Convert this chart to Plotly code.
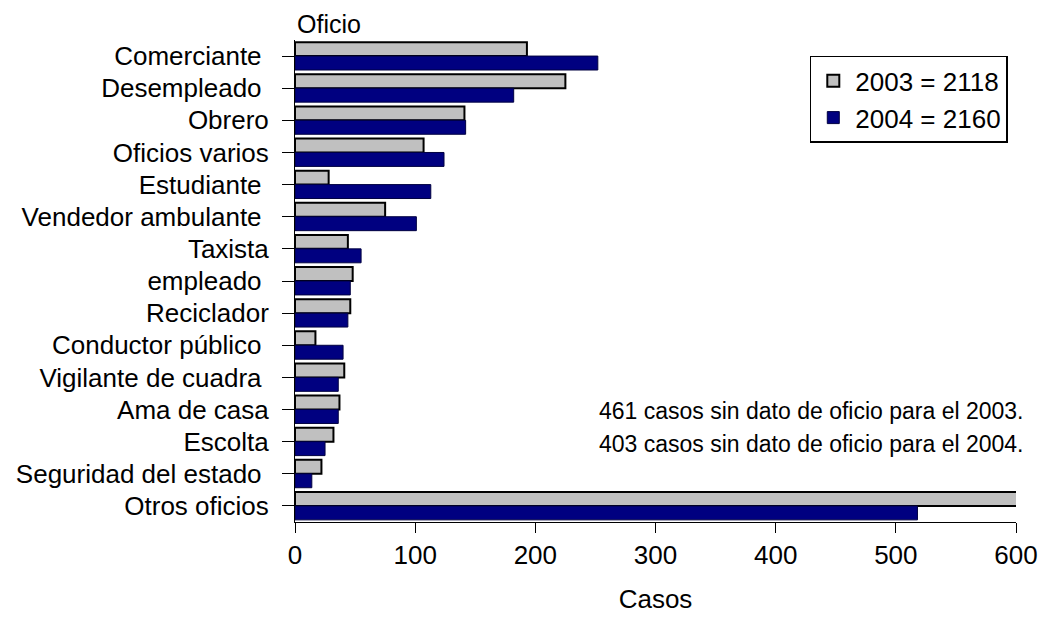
import plotly.graph_objects as go

categories = ["Comerciante ", "Desempleado ", "Obrero", "Oficios varios", "Estudiante ",
              "Vendedor ambulante ", "Taxista", "empleado ", "Reciclador",
              "Conductor público ", "Vigilante de cuadra ", "Ama de casa", "Escolta",
              "Seguridad del estado ", "Otros oficios"]
values_2003 = [193, 225, 141, 107, 28, 75, 44, 48, 46, 17, 41, 37, 32, 22, 601]
values_2004 = [252, 182, 142, 124, 113, 101, 55, 46, 44, 40, 36, 36, 25, 14, 518]
series_names = ["2003 = 2118", "2004 = 2160"]
x_ticks = [0, 100, 200, 300, 400, 500, 600]
notes = ["461 casos sin dato de oficio para el 2003.",
         "403 casos sin dato de oficio para el 2004."]

FONT = "Liberation Sans, Arial, sans-serif"

# page body has an 8px margin; the figure is sized to fill the rest of the window
W, H, OFF = 1050, 620, 8

fig = go.Figure()
fig.add_trace(go.Bar(y=categories, x=values_2003, orientation="h", name=series_names[0],
                     marker=dict(color="#c0c0c0", line=dict(color="black", width=2))))
fig.add_trace(go.Bar(y=categories, x=values_2004, orientation="h", name=series_names[1],
                     marker=dict(color="#000080", line=dict(color="#000040", width=1))))

fig.update_layout(
    width=W - OFF, height=H - OFF,
    margin=dict(l=295 - OFF, r=25, t=40 - OFF, b=95),
    paper_bgcolor="white", plot_bgcolor="white",
    barmode="group", bargap=0.133, bargroupgap=0,
    font=dict(family=FONT, size=26, color="black"),
    showlegend=True,
    legend=dict(x=0.714, y=0.967, xanchor="left", yanchor="top",
                bordercolor="black", borderwidth=1.5, bgcolor="white",
                font=dict(size=26), itemwidth=34),
    xaxis=dict(range=[0, 600], tickvals=x_ticks, showgrid=False, zeroline=False,
               showline=True, linecolor="black", linewidth=1,
               ticks="outside", ticklen=10, tickcolor="black",
               tickfont=dict(size=26),
               title=dict(text="Casos", font=dict(size=26), standoff=20)),
    yaxis=dict(autorange="reversed", showgrid=False, zeroline=False,
               showline=True, linecolor="black", linewidth=1,
               ticks="outside", ticklen=12, tickcolor="black",
               ticklabelstandoff=8,
               tickfont=dict(size=26), automargin=False),
    annotations=[
        dict(text="Oficio", x=0, y=1.0, xref="paper", yref="paper", xanchor="left",
             yanchor="bottom", yshift=0, showarrow=False, font=dict(size=25)),
        dict(text=notes[0], x=1.0, y=0.231, xref="paper", yref="paper", xanchor="right",
             yanchor="middle", xshift=10, showarrow=False, font=dict(size=23)),
        dict(text=notes[1], x=1.0, y=0.161, xref="paper", yref="paper", xanchor="right",
             yanchor="middle", xshift=10, showarrow=False, font=dict(size=23)),
    ],
)

fig.write_html("out.html")
